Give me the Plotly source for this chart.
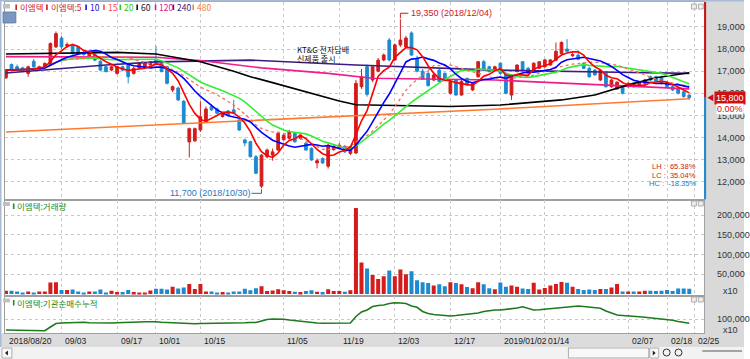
import pandas as pd
import plotly.graph_objects as go

# ---------------- data ----------------
holidays = ["2018-09-24", "2018-09-25", "2018-09-26", "2018-10-03", "2018-10-09",
            "2018-12-25", "2018-12-31", "2019-01-01", "2019-02-04", "2019-02-05", "2019-02-06"]
axis_dates = [d.strftime("%Y-%m-%d") for d in pd.bdate_range("2018-08-20", "2019-02-25")
              if d.strftime("%Y-%m-%d") not in holidays]

open_ = [16700,17300,17200,17150,16900,17450,17050,17200,17300,18100,
         18500,18150,18150,18100,17850,17650,17750,17450,17200,17050,
         16900,17200,17280,16900,17130,17200,17280,17500,17360,17200,
         16150,16240,15640,13800,13850,14340,14720,15400,15290,14950,
         15200,15250,14790,13890,13810,13130,11800,13130,13200,13430,
         13900,13960,14190,13960,13740,13510,12850,13050,12700,13450,
         13500,13600,13280,13300,16300,17200,16600,17000,17510,18410,
         17510,18190,18100,18730,17600,17000,16900,16600,17050,16900,
         16000,16600,15920,16680,16150,16750,17430,17200,17050,17360,
         16900,15920,16980,17430,17130,17050,17130,17200,17280,17500,
         17800,18000,17700,17730,17360,17130,17050,16600,16900,16300,
         16200,16300,16300,16450,16350,16450,16750,16750,16700,16500,
         16300,16230,16070,15920]
high = [17100,17350,17300,17200,17250,17550,17250,17400,18300,18800,
        18600,18300,18200,18150,17950,17900,17800,17500,17250,17250,
        17250,17250,17300,17200,17400,17400,17450,18140,17400,17250,
        16350,16300,15700,14450,14450,15640,15400,15500,15350,15150,
        15250,15700,14850,13950,13850,13200,13250,13500,13500,14250,
        14200,14350,14250,14150,13800,13550,13050,13100,13700,13700,
        13750,13650,13600,16600,17100,17300,17250,17600,17800,18500,
        18250,19350,18600,18800,17700,17100,17000,16900,17100,16950,
        16600,16650,16600,16700,16500,17450,17500,17250,17250,17400,
        16950,16850,17300,17450,17200,17400,17450,17550,17550,18300,
        18350,18450,17850,17950,17400,17200,17100,17100,16950,16650,
        16550,16350,16500,16500,16550,16650,16800,16800,16800,16550,
        16350,16300,16100,15950]
low = [16650,17000,17050,16950,16750,17150,17000,17150,17250,18050,
       18000,18050,17750,17750,17700,17600,17450,17000,16950,17000,
       16850,17000,16450,16850,17100,17150,17250,17300,16950,16400,
       16050,15650,14600,13100,13800,14250,14650,15200,15050,14900,
       14950,15050,14300,13600,13100,12350,11700,13050,12950,13400,
       13850,13900,13750,13900,13400,12950,12600,12800,12600,13400,
       13450,13300,13200,13250,16200,15850,16500,16950,17450,17450,
       17450,18100,18050,17700,16950,16600,16300,16550,16500,16550,
       15950,15900,15900,16350,16100,16700,17000,16950,17000,16850,
       15950,15700,16950,17000,16850,17000,17100,17150,17250,17450,
       17750,17850,17650,17500,17100,16700,16800,16550,16250,16250,
       16150,15950,16250,16250,16300,16400,16550,16500,16400,16250,
       16100,15950,15800,15700]
close = [17050,17050,17100,17000,17200,17200,17200,17350,18250,18700,
         18100,18200,17800,17800,17750,17850,17500,17050,16980,17200,
         17200,17050,16750,17130,17360,17360,17430,17360,16980,16450,
         16300,15700,14650,14400,14400,14940,15290,15250,15100,15100,
         15000,15100,14340,13750,13130,12380,13200,13430,13350,14190,
         14100,14260,13810,14110,13430,12980,12950,12850,13650,13600,
         13650,13350,13580,16450,16750,15950,17200,17500,17730,17510,
         18190,18410,18500,17730,17000,16650,16350,16830,16530,16600,
         16530,15920,16530,16380,16450,17430,17050,16980,17200,16900,
         16000,16830,17280,17050,16900,17360,17430,17510,17510,17900,
         18300,17900,17750,17540,17130,16750,16830,17050,16300,16600,
         16500,16000,16450,16300,16500,16600,16600,16550,16450,16300,
         16150,16000,15850,15800]
volume = [8400,8400,6700,4200,6700,4200,6700,6700,29500,30000,
          10100,10100,11800,6700,3400,6700,6700,11800,4200,8400,
          5000,5000,10100,5000,3400,3400,9000,13500,13500,11800,
          18500,14300,16900,25300,12600,25300,6700,6700,4200,5000,
          2500,6700,6700,13500,10000,15000,20000,8000,9000,12000,
          10000,8000,6000,5000,8000,10000,6000,5000,12000,8000,
          8000,6000,10000,218000,80000,65000,48000,38000,45000,60000,
          45000,62000,50000,58000,35000,30000,28000,22000,25000,20000,
          30000,28000,25000,18000,15000,30000,25000,15000,12000,29500,
          18600,21900,18600,14300,12600,28700,11800,15200,21900,25300,
          30400,28700,18600,12600,10100,11800,10100,12600,12600,16900,
          25300,6700,6700,6700,6700,8400,8400,7600,8400,10100,
          7600,14300,14300,13500]
inst_cum = [78000,78000,78000,78000,77500,77500,77000,76500,84000,91000,
            92000,92500,93000,93000,93500,92500,92000,91500,91500,92000,
            92500,92500,93000,93000,94000,94500,94700,94500,93500,93000,
            92500,92000,91000,90500,90500,91000,91000,91500,91500,91500,
            92000,92000,92000,92500,93000,93000,96000,99000,100000,100000,
            99500,98000,96500,96000,95000,93000,92000,91500,91500,91500,
            91500,91500,92000,105000,114000,118000,125000,127000,128000,131000,
            132500,132000,131000,126000,123500,115000,111000,109000,108000,106500,
            106000,107000,108000,110000,111000,112000,115000,117000,118000,118000,
            119000,120000,122000,124500,121000,118000,118500,119500,120500,121500,
            123000,124500,125500,126000,125000,123500,122500,121500,116000,112000,
            108000,107000,106500,105000,104500,103500,102500,101500,100500,99000,
            97500,95000,92500,91500]

# long moving averages (trading-day index, value)
ma60_i = [0, 10, 20, 27, 30, 35, 41, 44, 47, 52, 56, 60, 63, 70, 80, 89, 100, 106, 112, 117, 123]
ma60_v = [17780, 17800, 17850, 17780, 17650, 17430, 17000, 16750, 16550, 16200, 15900, 15650,
          15480, 15450, 15400, 15470, 15700, 15920, 16380, 16700, 16930]
ma120_i = [0, 27, 35, 46, 58, 66, 88, 106, 123]
ma120_v = [17660, 17630, 17480, 17150, 16900, 16680, 16600, 16380, 16200]
ma240_i = [0, 9, 18, 27, 44, 63, 88, 110, 123]
ma240_v = [16920, 17100, 17280, 17420, 17500, 17280, 17050, 16950, 16900]
ma480_i = [0, 44, 88, 123]
ma480_v = [14250, 14780, 15280, 15750]

tick_dates = ["2018-08-20", "2018-09-03", "2018-09-17", "2018-10-01", "2018-10-15", "2018-11-05",
              "2018-11-19", "2018-12-03", "2018-12-17", "2019-01-02", "2019-01-14", "2019-02-07",
              "2019-02-18", "2019-02-25"]
tick_labels = ["2018/08/20", "09/03", "09/17", "10/01", "10/15", "11/05", "11/19", "12/03",
               "12/17", "2019/01/02", "01/14", "02/07", "02/18", "02/25"]
price_ticks = [12000, 13000, 14000, 15000, 16000, 17000, 18000, 19000]
vol_ticks = [50000, 100000, 150000, 200000]
inst_ticks = [100000]

legend_labels = ["이엠텍", "이엠텍:5", "10", "15", "20", "60", "120", "240", "480"]
legend_colors = ["#d01818", "#d01818", "#1010e0", "#ff4a4a", "#22cc22", "#111111", "#e0188a", "#3a1a7a", "#f08040"]

# ---------------- styling helpers ----------------
W, H = 750, 359
def px(x): return x / W
def py(y): return 1 - y / H

RED = "#d41c1c"
BLUE = "#1c8ad0"
GRID = "#c8c8c8"
LINEC = "#a0a0a0"
KFONT = "Noto Sans CJK KR"
NFONT = "Liberation Sans, Arial, sans-serif"

x = list(range(len(close)))
tick_idx = [axis_dates.index(d) for d in tick_dates]

fig = go.Figure()

# price pane: candles
fig.add_trace(go.Candlestick(
    x=x, open=open_, high=high, low=low, close=close,
    increasing=dict(line=dict(color=RED, width=1), fillcolor=RED),
    decreasing=dict(line=dict(color=BLUE, width=1), fillcolor=BLUE),
    whiskerwidth=0, xaxis="x", yaxis="y", showlegend=False, hoverinfo="skip"))

# long MAs
for xi, yv, col in [(ma480_i, ma480_v, "#ff7a30"), (ma240_i, ma240_v, "#3c1c80"),
                    (ma120_i, ma120_v, "#f01c8c"), (ma60_i, ma60_v, "#000000")]:
    fig.add_trace(go.Scatter(x=xi, y=yv, mode="lines", line=dict(color=col, width=1.6),
                             xaxis="x", yaxis="y", showlegend=False, hoverinfo="skip"))

# short MAs computed from closes
s = pd.Series(close, dtype=float)
for n, col, dash, w in [(20, "#33ee33", "solid", 1.6), (15, "#ff6a5a", "dot", 1.3),
                        (10, "#0000ff", "solid", 1.6), (5, "#ff0000", "solid", 1.6)]:
    fig.add_trace(go.Scatter(x=x, y=s.rolling(n, min_periods=1).mean(), mode="lines",
                             line=dict(color=col, width=w, dash=dash),
                             xaxis="x", yaxis="y", showlegend=False, hoverinfo="skip"))

# volume pane
vcol = [RED if c >= o else BLUE for o, c in zip(open_, close)]
fig.add_trace(go.Bar(x=x, y=volume, marker=dict(color=vcol, line=dict(width=0)),
                     xaxis="x2", yaxis="y2", showlegend=False, hoverinfo="skip"))

# institution cumulative pane
fig.add_trace(go.Scatter(x=x, y=inst_cum, mode="lines", line=dict(color="#1d7a1d", width=1.6),
                         xaxis="x3", yaxis="y3", showlegend=False, hoverinfo="skip"))

XR = [-0.18, 125.71]
xdom = [px(5), px(710)]
xcommon = dict(domain=xdom, range=XR, tickvals=tick_idx, showticklabels=False, ticks="",
               showgrid=True, gridcolor=GRID, griddash="dot", gridwidth=1, zeroline=False,
               showline=True, linecolor=LINEC, mirror=True)
ycommon = dict(side="right", ticks="", showgrid=True, gridcolor=GRID, griddash="dot",
               zeroline=False, showline=True, linecolor=LINEC, mirror=True,
               tickfont=dict(family=NFONT, size=9, color="#333"), ticklabelstandoff=10,
               tickformat=",d")

layout = dict(
    width=W, height=H, margin=dict(l=0, r=0, t=0, b=0),
    paper_bgcolor="white", plot_bgcolor="white", bargap=0.28,
    xaxis=dict(anchor="y", rangeslider=dict(visible=False), **xcommon),
    xaxis2=dict(anchor="y2", matches="x", **xcommon),
    xaxis3=dict(anchor="y3", matches="x", **xcommon),
    yaxis=dict(anchor="x", domain=[py(199.5), py(2)], range=[11194, 20131], tickvals=price_ticks, **ycommon),
    yaxis2=dict(anchor="x2", domain=[py(295.5), py(199.5)], range=[-3540, 239240], tickvals=vol_ticks, **ycommon),
    yaxis3=dict(anchor="x3", domain=[py(333), py(295.5)], range=[72000, 147000], tickvals=inst_ticks, **ycommon),
)
fig.update_layout(**layout)

shapes = []
ann = []

def rect(x0, y0, x1, y1, fill, line=None, lw=0, layer="below"):
    shapes.append(dict(type="rect", xref="paper", yref="paper", x0=px(x0), x1=px(x1),
                       y0=py(y1), y1=py(y0), fillcolor=fill,
                       line=dict(color=line or fill, width=lw), layer=layer))

# right axis strip and date band
rect(710.5, 0, 750, 347, "#d9d9d9")
rect(0, 333, 710.5, 347, "#dcdcdc")
rect(0, 347, 750, 359, "#f2f2f2")
# outer frame (top & left)
rect(0, 0, 750, 1.5, "#a9bbd3", layer="above")
rect(0, 0, 1.5, 347, "#a9bbd3", layer="above")

# current price position bar on the right edge of the price pane
last = close[-1]
shapes.append(dict(type="line", xref="paper", yref="y", x0=px(710.8), x1=px(710.8), y0=last, y1=20131,
                   line=dict(color="#d01010", width=2), layer="above"))
shapes.append(dict(type="line", xref="paper", yref="y", x0=px(710.8), x1=px(710.8), y0=11194, y1=last,
                   line=dict(color="#1c8ad0", width=2), layer="above"))
shapes.append(dict(type="path", xref="paper", yref="y", xsizemode="pixel", ysizemode="pixel",
                   xanchor=px(713), yanchor=last, path="M 0 0 L 6 3.5 L 6 -3.5 Z",
                   fillcolor="#d01010", line=dict(color="#d01010", width=0), layer="above"))
ann.append(dict(text=f"{last:,}", x=px(720), y=last, xref="paper", yref="y", xanchor="left",
                yanchor="middle", showarrow=False, bgcolor="#d01010", borderpad=1,
                font=dict(family=NFONT, size=9, color="white")))
ann.append(dict(text="0.00%", x=px(722), y=last, yshift=-11, xref="paper", yref="y", xanchor="left",
                yanchor="middle", showarrow=False, bgcolor="white", borderpad=0,
                font=dict(family=NFONT, size=9, color="#d01010")))

# small pane icons (top-right of each pane)
for ytop in [4, 201, 297]:
    rect(697, ytop, 702, ytop + 5, "#eeeeee", "#9a9a9a", 0.8, layer="above")
    rect(704, ytop, 709, ytop + 5, "#eeeeee", "#9a9a9a", 0.8, layer="above")

# pane titles
rect(3, 4, 10, 8.5, "#c0c0c0", layer="above")
rect(3, 12, 16, 23, "#7b96c0", "#5a76a0", 0.8, layer="above")
ann.append(dict(text="호", x=px(9.5), y=py(17.5), xref="paper", yref="paper", showarrow=False,
                font=dict(family=KFONT, size=8.5, color="white")))
leg_marks = [15.5, 46.5, 86, 104, 120.5, 137.5, 156, 174, 194]
for lab, col, xm in zip(legend_labels, legend_colors, leg_marks):
    rect(xm, 4.5, xm + 1.6, 10, col, layer="above")
    ann.append(dict(text=lab, x=px(xm + 2.5), y=py(7.3), xref="paper", yref="paper", xanchor="left",
                    yanchor="middle", showarrow=False, font=dict(family=KFONT, size=8.5, color=col)))

for ytop, lab in [(202, "이엠텍:거래량"), (298.5, "이엠텍:기관순매수누적")]:
    rect(3, ytop, 10, ytop + 4, "#c0c0c0", layer="above")
    rect(13, ytop + 1.5, 14.6, ytop + 7, "#238a23", layer="above")
    ann.append(dict(text=lab, x=px(15.5), y=py(ytop + 4.3), xref="paper", yref="paper", xanchor="left",
                    yanchor="middle", showarrow=False, font=dict(family=KFONT, size=8.5, color="#238a23")))

for yy in [290.5, 329.5]:
    ann.append(dict(text="x10", x=px(746), y=py(yy), xref="paper", yref="paper", xanchor="right",
                    yanchor="middle", showarrow=False, font=dict(family=NFONT, size=9, color="#333")))

# date labels (left-aligned next to their gridline)
for ti, tl in zip(tick_idx, tick_labels):
    ann.append(dict(text=tl, x=ti, y=py(340.5), xref="x", yref="paper", xanchor="left", xshift=1.5,
                    yanchor="middle", showarrow=False, font=dict(family=NFONT, size=8.5, color="#222")))

# high / low marks
hi = max(high); hi_i = high.index(hi)
lo = min(low); lo_i = low.index(lo)
hi_date = axis_dates[hi_i].replace("-", "/")
lo_date = axis_dates[lo_i].replace("-", "/")
for seg in [dict(x0=0, x1=0, y0=1, y1=6), dict(x0=0, x1=8, y0=6, y1=6)]:
    shapes.append(dict(type="line", xref="x", yref="y", xsizemode="pixel", ysizemode="pixel",
                       xanchor=hi_i, yanchor=hi, line=dict(color="#d01818", width=1), layer="above", **seg))
ann.append(dict(text=f"{hi:,} ({hi_date})", x=hi_i, y=hi, xref="x", yref="y", xanchor="left",
                yanchor="middle", xshift=9, yshift=6, showarrow=False,
                font=dict(family=NFONT, size=9, color="#d01818")))
for seg in [dict(x0=0, x1=0, y0=-1, y1=-5), dict(x0=-10, x1=0, y0=-5, y1=-5)]:
    shapes.append(dict(type="line", xref="x", yref="y", xsizemode="pixel", ysizemode="pixel",
                       xanchor=lo_i, yanchor=lo, line=dict(color="#1c7ac0", width=1), layer="above", **seg))
ann.append(dict(text=f"{lo:,} ({lo_date})", x=lo_i, y=lo, xref="x", yref="y", xanchor="right",
                yanchor="middle", xshift=-10, yshift=-5, showarrow=False,
                font=dict(family=NFONT, size=9, color="#1c7ac0")))

# event note
ann.append(dict(text="KT&G 전자담배", x=52, y=17990, xref="x", yref="y", xanchor="left", yanchor="middle",
                showarrow=False, font=dict(family=KFONT, size=8, color="#111")))
ann.append(dict(text="신제품 출시", x=52, y=17590, xref="x", yref="y", xanchor="left", yanchor="middle",
                showarrow=False, font=dict(family=KFONT, size=8, color="#111")))

# LH / LC / HC stats
lh = (hi / lo - 1) * 100
lc = (last / lo - 1) * 100
hc = (last / hi - 1) * 100
for k, (name, v, col) in enumerate([("LH", lh, "#d01818"), ("LC", lc, "#d01818"), ("HC", hc, "#1c7ac0")]):
    ann.append(dict(text=f"{name} :  {v:.2f}%".replace(" ", "&nbsp;"), x=px(703), y=py(166.5 + 8.6 * k),
                    xref="paper", yref="paper", xanchor="right", yanchor="middle", showarrow=False,
                    borderpad=0, font=dict(family=NFONT, size=7.5, color=col)))

# bottom scroll widgets
rect(2, 348, 12, 358, "#f8f8f8", "#9a9a9a", 0.8, layer="above")
shapes.append(dict(type="path", xref="paper", yref="paper",
                   path=f"M {px(5)} {py(353)} L {px(8)} {py(350.5)} L {px(8)} {py(355.5)} Z",
                   fillcolor="#222", line=dict(width=0)))
rect(573, 348, 654, 358, "#f8f8f8", "#9a9a9a", 0.8, layer="above")
rect(655, 348, 664, 358, "#f8f8f8", "#9a9a9a", 0.8, layer="above")
shapes.append(dict(type="path", xref="paper", yref="paper",
                   path=f"M {px(661)} {py(353)} L {px(658)} {py(350.5)} L {px(658)} {py(355.5)} Z",
                   fillcolor="#222", line=dict(width=0)))
for cx in [672, 684]:
    shapes.append(dict(type="circle", xref="paper", yref="paper", x0=px(cx - 3.5), x1=px(cx + 3.5),
                       y0=py(356), y1=py(349), line=dict(color="#333", width=1)))
shapes.append(dict(type="line", xref="paper", yref="paper", x0=px(708), x1=px(748), y0=py(351), y1=py(351),
                   line=dict(color="#555", width=1)))

fig.update_layout(shapes=shapes, annotations=ann)
fig.write_html("out.html", include_plotlyjs=True, config={"displayModeBar": False},
               post_script="document.body.style.margin='0px';document.body.style.overflow='hidden';")
